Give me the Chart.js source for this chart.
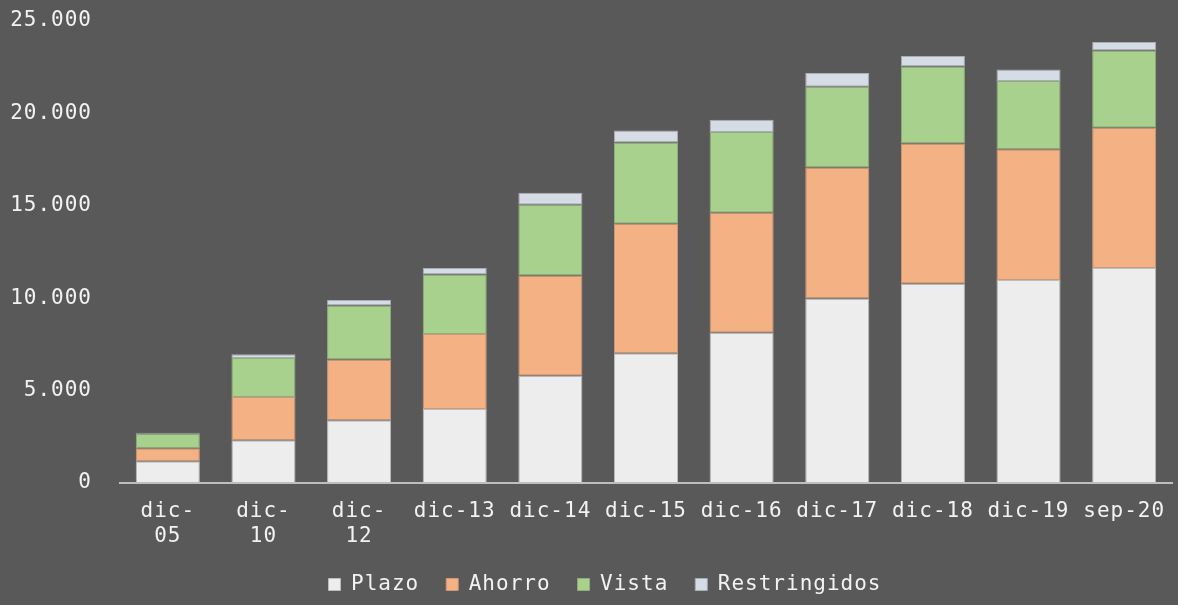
<!DOCTYPE html>
<html>
<head>
<meta charset="utf-8">
<script src="https://cdn.jsdelivr.net/npm/chart.js@4"></script>
<style>
  html, body { margin: 0; padding: 0; background: #595959; }
  #wrap { width: 1178px; height: 605px; }
</style>
</head>
<body>
<div id="wrap"><canvas id="graficoDepositos"></canvas></div>
<script>
// periodos (los tres primeros van partidos en dos líneas)
const categorias = [['dic-', '05'], ['dic-', '10'], ['dic-', '12'], 'dic-13', 'dic-14', 'dic-15', 'dic-16', 'dic-17', 'dic-18', 'dic-19', 'sep-20'];

const plazo = [1180, 2310, 3390, 4000, 5800, 7020, 8130, 9990, 10780, 10990, 11640];
const ahorro = [700, 2340, 3290, 4060, 5430, 7010, 6500, 7080, 7590, 7070, 7590];
const vista = [780, 2120, 2930, 3220, 3830, 4390, 4370, 4370, 4170, 3690, 4170];
const restringidos = [55, 200, 290, 360, 640, 650, 650, 740, 560, 630, 470];

const ejeY = [0, 5000, 10000, 15000, 20000, 25000];

const fuente = "'DejaVu Sans Mono', monospace";
const texto = '#f2f2f2';

const serie = (label, data, color, borde) => ({
  label, data,
  backgroundColor: color,
  borderColor: borde,
  borderWidth: 1,
  borderSkipped: false,
  categoryPercentage: 1,
  barPercentage: 0.67
});

// un poco de espacio entre letras para los textos
const espaciado = {
  id: 'espaciado',
  beforeLayout: (chart) => { chart.ctx.letterSpacing = '1px'; },
  beforeDraw: (chart) => { chart.ctx.letterSpacing = '1px'; }
};

// la leyenda va un poco a la derecha del centro
const moverLeyenda = {
  id: 'moverLeyenda',
  afterLayout: (chart) => {
    chart.legend.left += 19;
    chart.legend.right += 19;
  }
};

document.addEventListener('DOMContentLoaded', () => {
  const ctx = document.getElementById('graficoDepositos').getContext('2d');
  new Chart(ctx, {
    type: 'bar',
    plugins: [espaciado, moverLeyenda],
    data: {
      labels: categorias,
      datasets: [
        serie('Plazo', plazo, '#ededed', '#bdbdbd'),
        serie('Ahorro', ahorro, '#f4b183', '#c99a7c'),
        serie('Vista', vista, '#a9d18e', '#8fae7b'),
        serie('Restringidos', restringidos, '#d6dce5', '#a9aeb5')
      ]
    },
    options: {
      responsive: true,
      maintainAspectRatio: false,
      animation: false,
      layout: { padding: { top: 21, right: 6, left: 0, bottom: 0 } },
      plugins: {
        tooltip: { enabled: false },
        legend: {
          position: 'bottom',
          labels: {
            color: texto,
            font: { family: fuente, size: 21 },
            boxWidth: 12,
            boxHeight: 12,
            padding: 27
          }
        }
      },
      scales: {
        x: {
          stacked: true,
          grid: { display: false },
          border: { display: true, color: '#bfbfbf', width: 2 },
          afterFit: (s) => { s.height = 64; },
          ticks: {
            color: texto,
            font: { family: fuente, size: 21, lineHeight: 1.2 },
            maxRotation: 0,
            autoSkip: false,
            padding: 8
          }
        },
        y: {
          stacked: true,
          min: 0,
          max: 25000,
          grid: { display: false },
          border: { display: false },
          afterFit: (s) => { s.width = 120; s.paddingTop = 0; s.paddingBottom = 0; },
          afterBuildTicks: (s) => { s.ticks = ejeY.map(v => ({ value: v })); },
          ticks: {
            color: texto,
            font: { family: fuente, size: 21 },
            padding: 20,
            callback: (v) => v.toString().replace(/\B(?=(\d{3})+(?!\d))/g, '.')
          }
        }
      }
    }
  });
});
</script>
</body>
</html>
